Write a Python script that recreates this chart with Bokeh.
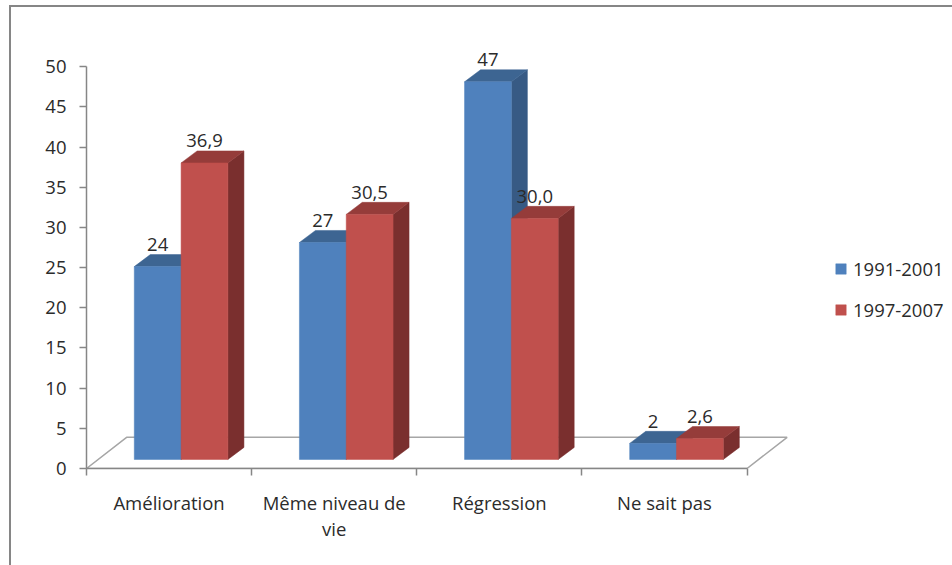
from bokeh.plotting import figure
from bokeh.embed import file_html
from bokeh.resources import INLINE
from bokeh.models import (Range1d, LinearAxis, FixedTicker, Legend, LegendItem,
                          ColumnDataSource)
from bokeh.core.properties import value

categories = ["Amélioration", "Même niveau de\nvie", "Régression", "Ne sait pas"]
series_1991 = [24, 27, 47, 2]
series_1997 = [36.9, 30.5, 30.0, 2.6]
labels_1991 = ["24", "27", "47", "2"]
labels_1997 = ["36,9", "30,5", "30,0", "2,6"]
y_ticks = list(range(0, 55, 5))

ORIGIN_X, ORIGIN_Y = 12, 8      # offset used to place the axis origin on the page
W, H = 952 - 11, 565 - 7
LEFT, BOTTOM = 87 - ORIGIN_X, 467 - ORIGIN_Y
PX_PER_CAT = 164.75
PX_PER_UNIT = 8.0
FONT = "Open Sans"
FS = "18.5px"
TEXT = "#2b2b2b"
AXIS = "#868686"

p = figure(width=W, height=H, output_backend="svg", toolbar_location=None,
           x_range=Range1d(0, (W - LEFT) / PX_PER_CAT),
           y_range=Range1d(0, BOTTOM / PX_PER_UNIT),
           x_axis_type=None, y_axis_type=None,
           min_border_left=LEFT, min_border_right=0, min_border_top=0,
           min_border_bottom=H - BOTTOM, outline_line_color=None,
           background_fill_color="white", border_fill_color="white")
p.margin = (5, 0, 0, 9)
p.styles = {"border-top": "2px solid #868686", "border-left": "2px solid #868686",
            "box-sizing": "content-box"}
p.grid.visible = False

yax = LinearAxis(ticker=FixedTicker(ticks=y_ticks), bounds=(0, 50),
                 axis_line_color=AXIS, axis_line_width=1.5,
                 major_tick_line_color=AXIS, major_tick_line_width=1.5,
                 major_tick_in=0, major_tick_out=7, minor_tick_line_color=None,
                 major_label_standoff=13, major_label_text_font=FONT,
                 major_label_text_font_size=FS, major_label_text_color=TEXT)
p.add_layout(yax, "left")

n = len(categories)
xax = LinearAxis(ticker=FixedTicker(ticks=[i + 0.5 for i in range(n)],
                                    minor_ticks=list(range(n + 1))),
                 bounds=(0, n), axis_line_color=AXIS, axis_line_width=1.5,
                 major_tick_line_color=None, major_tick_in=0, major_tick_out=0,
                 minor_tick_line_color=AXIS, minor_tick_line_width=1.5,
                 minor_tick_in=0, minor_tick_out=7,
                 major_label_overrides={i + 0.5: c for i, c in enumerate(categories)},
                 major_label_standoff=14, major_label_text_font=FONT,
                 major_label_text_font_size=FS, major_label_text_color=TEXT,
                 major_label_text_line_height=1.04)
p.add_layout(xax, "below")

floor_dx = 40 / PX_PER_CAT
floor_dy = 31 / PX_PER_UNIT
p.patch([0, floor_dx, n + floor_dx, n, 0], [0, floor_dy, floor_dy, 0, 0],
        fill_color="white", line_color="#A6A6A6", line_width=1.5)

bar_w = 46.7 / PX_PER_CAT
shift = 12 / PX_PER_CAT
dx = 16 / PX_PER_CAT
dy = 12 / PX_PER_UNIT
base = 9 / PX_PER_UNIT


def bars(values, labels, offset, front, top, side):
    lefts = [i + 0.5 + shift + offset * bar_w for i in range(n)]
    rights = [l + bar_w for l in lefts]
    tops = [base + v for v in values]
    p.patches([[r, r + dx, r + dx, r] for r in rights],
              [[base, base + dy, t + dy, t] for t in tops],
              fill_color=side, line_color=side, line_width=0.5)
    p.patches([[l, l + dx, r + dx, r] for l, r in zip(lefts, rights)],
              [[t, t + dy, t + dy, t] for t in tops],
              fill_color=top, line_color=top, line_width=0.5)
    r = p.quad(left=lefts, right=rights, bottom=base, top=tops,
               fill_color=front, line_color=front, line_width=0.5)
    src = ColumnDataSource(dict(x=[(l + rr) / 2 for l, rr in zip(lefts, rights)],
                                y=tops, t=labels))
    return r, src


r1, s1 = bars(series_1991, labels_1991, -1, "#4F81BD", "#3D6592", "#375A84")
r2, s2 = bars(series_1997, labels_1997, 0, "#C0504D", "#953C3A", "#7A2F2E")

for src in (s1, s2):
    p.text("x", "y", text="t", source=src, y_offset=-22, text_align="center",
           text_baseline="middle", text_font=value(FONT), text_font_size=FS,
           text_color=TEXT)

legend = Legend(items=[LegendItem(label="1991-2001", renderers=[r1]),
                       LegendItem(label="1997-2007", renderers=[r2])],
                location=(748, 146), glyph_width=13, glyph_height=13,
                label_width=90, label_height=13, spacing=16, padding=0, margin=0,
                label_standoff=6, background_fill_alpha=0, border_line_color=None,
                label_text_font=FONT, label_text_font_size=FS,
                label_text_color=TEXT)
p.add_layout(legend, "center")

open("out.html", "w").write(file_html(p, INLINE))
